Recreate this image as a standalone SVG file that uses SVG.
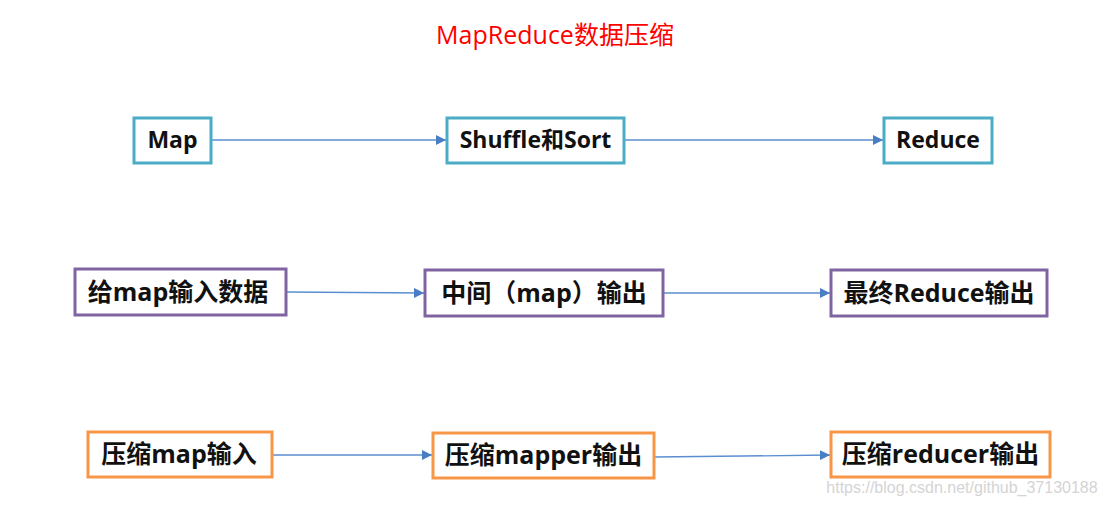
<svg xmlns="http://www.w3.org/2000/svg" width="1107" height="507" viewBox="0 0 1107 507">
<style>
.box{fill:#fff;stroke-width:3}
.teal{stroke:#4bacc6}
.purple{stroke:#8064a2}
.orange{stroke:#f79646}
.lbl{font-family:"Open Sans","Noto Sans CJK SC",sans-serif;font-weight:bold;font-size:25px;fill:#111;text-anchor:middle}
.l1{font-size:23px}
.conn{stroke:#5b8ed0;stroke-width:1.3;fill:none;marker-end:url(#ah)}
</style>
<defs>
<marker id="ah" viewBox="0 0 10 10" refX="10" refY="5" markerWidth="10" markerHeight="10" markerUnits="userSpaceOnUse" orient="auto">
<path d="M0,0 L10,5 L0,10 z" fill="#4a7ec4"/>
</marker>
</defs>
<rect width="1107" height="507" fill="#fff"/>
<text x="555" y="44" font-family="'Open Sans','Noto Sans CJK SC',sans-serif" font-size="25" fill="#ff0000" text-anchor="middle">MapReduce数据压缩</text>
<g id="connectors">
<line class="conn" x1="212" y1="140" x2="446" y2="140"/>
<line class="conn" x1="625" y1="140" x2="883" y2="140"/>
<line class="conn" x1="287" y1="292" x2="424" y2="293"/>
<line class="conn" x1="664" y1="293" x2="830" y2="293"/>
<line class="conn" x1="273" y1="455" x2="432" y2="455"/>
<line class="conn" x1="655" y1="457" x2="830" y2="455"/>
</g>
<g id="n-map"><rect class="box teal" x="134" y="118" width="77" height="45"/><text class="lbl l1" x="172.5" y="148">Map</text></g>
<g id="n-shuffle"><rect class="box teal" x="447" y="118" width="177" height="45"/><text class="lbl l1" x="535.5" y="148">Shuffle和Sort</text></g>
<g id="n-reduce"><rect class="box teal" x="884" y="118" width="108" height="45"/><text class="lbl l1" x="938" y="148">Reduce</text></g>
<g id="n-input"><rect class="box purple" x="75" y="269" width="211" height="46"/><text class="lbl" x="178" y="301">给map输入数据</text></g>
<g id="n-mid"><rect class="box purple" x="425" y="270" width="238" height="46"/><text class="lbl" x="544" y="302">中间（map）输出</text></g>
<g id="n-final"><rect class="box purple" x="831" y="270" width="216" height="46"/><text class="lbl" x="939" y="302">最终Reduce输出</text></g>
<g id="n-cin"><rect class="box orange" x="88" y="432" width="184" height="45"/><text class="lbl" x="179" y="463">压缩map输入</text></g>
<g id="n-cmap"><rect class="box orange" x="433" y="433" width="221" height="45"/><text class="lbl" x="543.5" y="464">压缩mapper输出</text></g>
<g id="n-cred"><rect class="box orange" x="831" y="432" width="219" height="45"/><text class="lbl" x="940.5" y="463">压缩reducer输出</text></g>
<text x="962" y="493" font-family="'Liberation Sans',sans-serif" font-size="16" fill="#d4d4d4" text-anchor="middle">https://blog.csdn.net/github_37130188</text>
</svg>
